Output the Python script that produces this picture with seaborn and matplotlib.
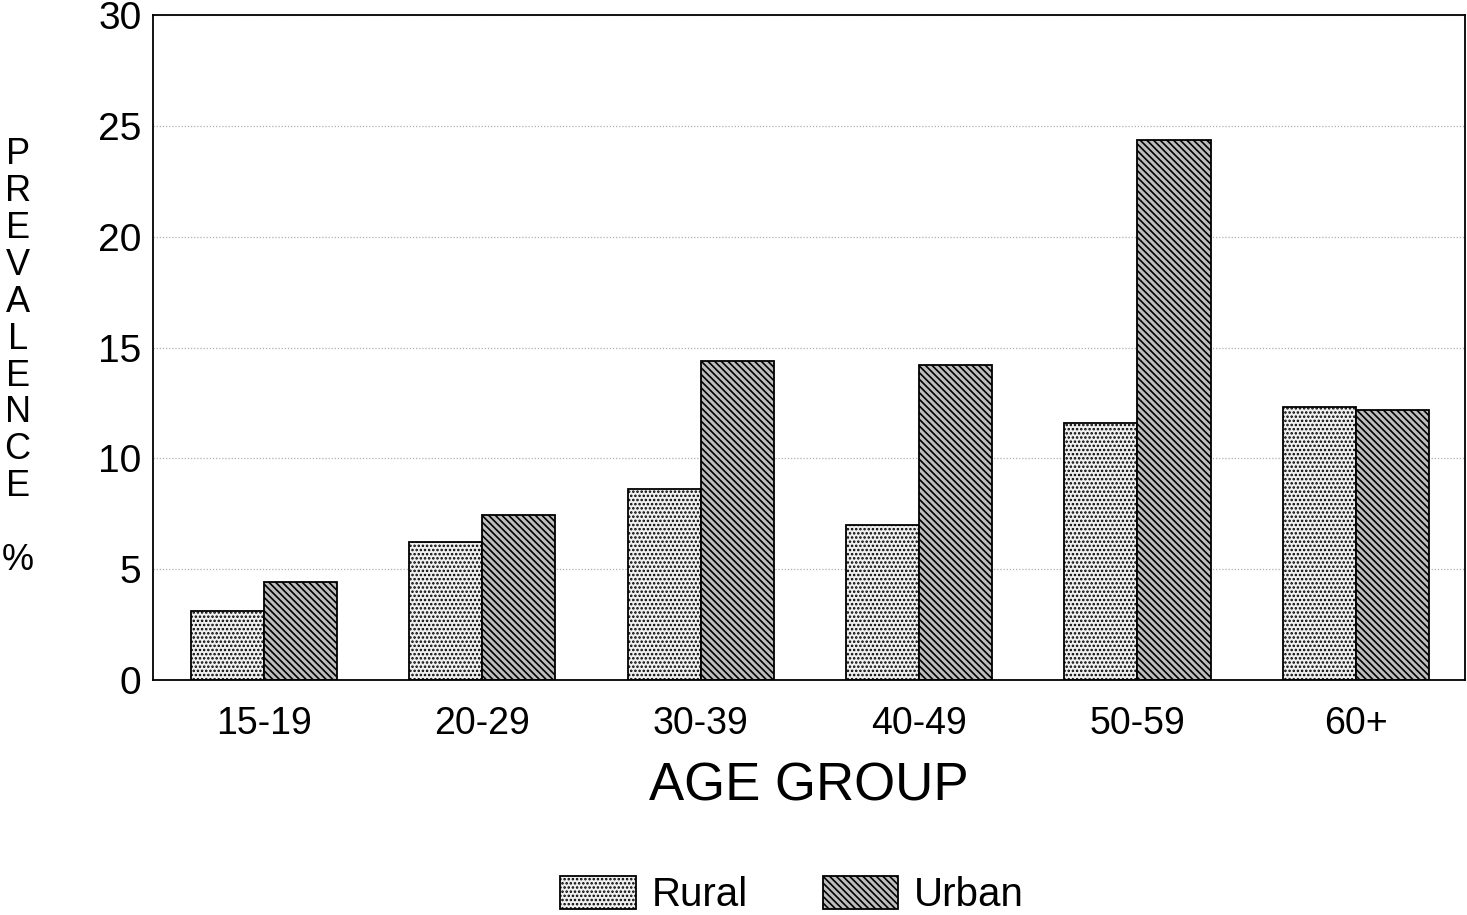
import numpy as np
import pandas as pd
import matplotlib
matplotlib.use("Agg")
import matplotlib.pyplot as plt
from matplotlib.patches import Patch
import seaborn as sns

# prevalence by age group, rural vs urban
age_groups = ['15-19', '20-29', '30-39', '40-49', '50-59', '60+']
rural = [3.1, 6.2, 8.6, 7.0, 11.6, 12.3]
urban = [4.4, 7.45, 14.4, 14.2, 24.35, 12.2]

df = pd.DataFrame({
    'age': age_groups * 2,
    'prev': rural + urban,
    'area': ['Rural'] * len(age_groups) + ['Urban'] * len(age_groups),
})

sns.set_style('white')
plt.rcParams['font.family'] = ['Liberation Sans', 'DejaVu Sans']
plt.rcParams['hatch.linewidth'] = 1.2
plt.rcParams['text.color'] = 'black'
plt.rcParams['xtick.color'] = 'black'
plt.rcParams['ytick.color'] = 'black'
plt.rcParams['axes.labelcolor'] = 'black'

rural_face = '#f0f0f0'
urban_face = '#bdbdbd'

fig = plt.figure(figsize=(14.67, 9.15), dpi=100)
ax = fig.add_axes([0.104, 0.257, 0.8946, 0.7264])

sns.barplot(data=df, x='age', y='prev', hue='area', order=age_groups,
            hue_order=['Rural', 'Urban'], width=0.67, ax=ax,
            palette=[rural_face, urban_face], edgecolor='black', linewidth=1.3,
            legend=False)

n = len(age_groups)
for i, p in enumerate(ax.patches[:2 * n]):
    if i < n:
        p.set_hatch('....')
        if hasattr(p, 'set_hatchcolor'):
            p.set_hatchcolor('#8a8a8a')
    else:
        p.set_hatch('\\\\\\\\\\')
        if hasattr(p, 'set_hatchcolor'):
            p.set_hatchcolor('#202020')

ax.set_xlim(-0.51, 5.5)
ax.set_ylim(0, 30)
ax.set_yticks([0, 5, 10, 15, 20, 25, 30])
ax.yaxis.grid(True, linestyle=(0, (1, 1.5)), color='#b0b0b0', linewidth=0.9)
ax.set_axisbelow(True)
for s in ax.spines.values():
    s.set_color('black')
    s.set_linewidth(1.3)
ax.tick_params(axis='y', direction='in', length=4, labelsize=28, pad=8)
ax.tick_params(axis='x', length=0, labelsize=27, pad=19)
ax.set_ylabel('')
ax.set_xlabel('AGE GROUP', fontsize=38, labelpad=14)

fig.text(0.012, 0.85, 'P\nR\nE\nV\nA\nL\nE\nN\nC\nE\n\n%', fontsize=26,
         ha='center', va='top', linespacing=1.07)

h_r = Patch(facecolor=rural_face, edgecolor='black', hatch='....', linewidth=1.3)
h_u = Patch(facecolor=urban_face, edgecolor='black', hatch='\\\\\\\\\\', linewidth=1.3)
fig.legend([h_r, h_u], ['Rural', 'Urban'], loc='center', bbox_to_anchor=(0.54, 0.022),
           ncol=2, frameon=False, fontsize=29, handlelength=1.87, handleheight=0.9,
           columnspacing=1.85, handletextpad=0.4)

fig.savefig('out.png', dpi=100)
